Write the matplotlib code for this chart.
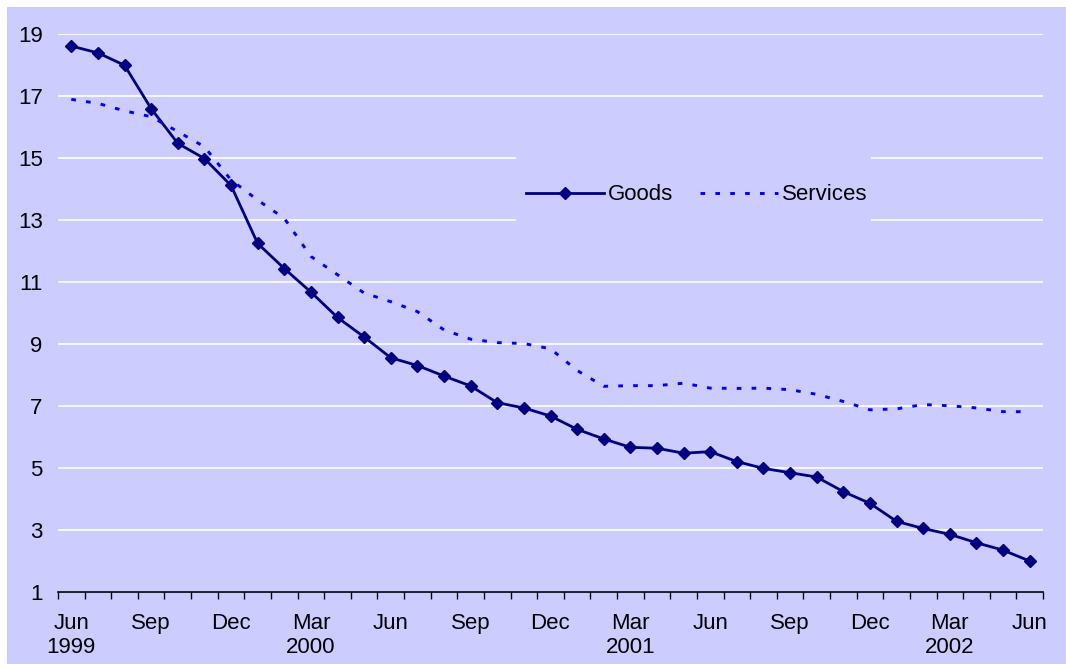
import matplotlib
matplotlib.use("Agg")
import matplotlib.pyplot as plt
import numpy as np
from matplotlib.patches import Rectangle

plt.rcParams['font.family'] = ['Liberation Sans', 'DejaVu Sans']
plt.rcParams['font.size'] = 16

months = ["Jun\n1999", "", "", "Sep", "", "", "Dec", "", "", "Mar\n2000", "", "",
          "Jun", "", "", "Sep", "", "", "Dec", "", "", "Mar\n2001", "", "",
          "Jun", "", "", "Sep", "", "", "Dec", "", "", "Mar\n2002", "", "",
          "Jun"]

goods = [18.62, 18.40, 18.00, 16.60, 15.48, 14.99, 14.12, 12.25, 11.44, 10.68,
         9.86, 9.23, 8.56, 8.31, 7.97, 7.65, 7.11, 6.94, 6.68, 6.25,
         5.94, 5.67, 5.64, 5.48, 5.53, 5.21, 4.99, 4.85, 4.71, 4.24,
         3.86, 3.28, 3.05, 2.86, 2.59, 2.35, 2.00]

services = [16.90, 16.77, 16.53, 16.34, 15.86, 15.37, 14.30, 13.65, 13.06, 11.83,
            11.24, 10.65, 10.37, 10.05, 9.46, 9.16, 9.05, 9.02, 8.85, 8.15,
            7.64, 7.66, 7.66, 7.74, 7.58, 7.57, 7.58, 7.53, 7.38, 7.15,
            6.88, 6.91, 7.05, 7.01, 6.94, 6.82, 6.82]

bg = "#CCCCFF"
W, H = 1066, 666

fig = plt.figure(figsize=(W / 100, H / 100), dpi=100, facecolor="white")
# lavender chart area with a thin white margin on the top and left
fig.patches.append(Rectangle((7 / W, 2 / H), 1 - 7 / W, 1 - 9 / H,
                             transform=fig.transFigure, facecolor=bg,
                             edgecolor="none", zorder=-10))

ax = fig.add_axes([58 / W, 1 - 592 / H, (1043 - 58) / W, (592 - 34.3) / H])
ax.set_facecolor(bg)
ax.set_axisbelow(True)

x = np.arange(len(goods))
ax.plot(x, goods, color="#000080", lw=2.0, marker="D", ms=6.5,
        label="Goods", zorder=3)
ax.plot(x, services, color="#0000FF", lw=2.1, ls=(0, (1.6, 3.5)),
        label="Services", zorder=3)

ax.set_xlim(-0.5, len(goods) - 0.5)
ax.set_ylim(1, 19)
ax.set_yticks(np.arange(1, 20, 2))
ax.yaxis.grid(True, color="white", lw=1.2)

major = [i for i, m in enumerate(months) if m]
ax.set_xticks(major)
ax.set_xticklabels([months[i] for i in major], linespacing=1.2)
ax.set_xticks(np.arange(-0.5, len(goods)), minor=True)
ax.tick_params(axis="x", which="major", length=0, pad=15)
ax.tick_params(axis="x", which="minor", length=5, width=1, color="black")
ax.tick_params(axis="y", length=0, pad=11)

for side in ["top", "right", "left"]:
    ax.spines[side].set_visible(False)
ax.spines["bottom"].set_color("black")
ax.spines["bottom"].set_linewidth(1.2)

# legend sits on a plain block that hides the gridlines behind it
ax.add_patch(Rectangle((516 / W, 1 - 268 / H), (871 - 516) / W, (268 - 122) / H,
                       transform=fig.transFigure, facecolor=bg,
                       edgecolor="none", zorder=1))
leg = ax.legend(loc="center", bbox_to_anchor=(697 / W, 1 - 195 / H),
                bbox_transform=fig.transFigure, ncol=2, frameon=False,
                handlelength=3.5, handletextpad=0.2, columnspacing=1.2,
                borderpad=0)

fig.savefig("out.png", dpi=100, facecolor="white")
